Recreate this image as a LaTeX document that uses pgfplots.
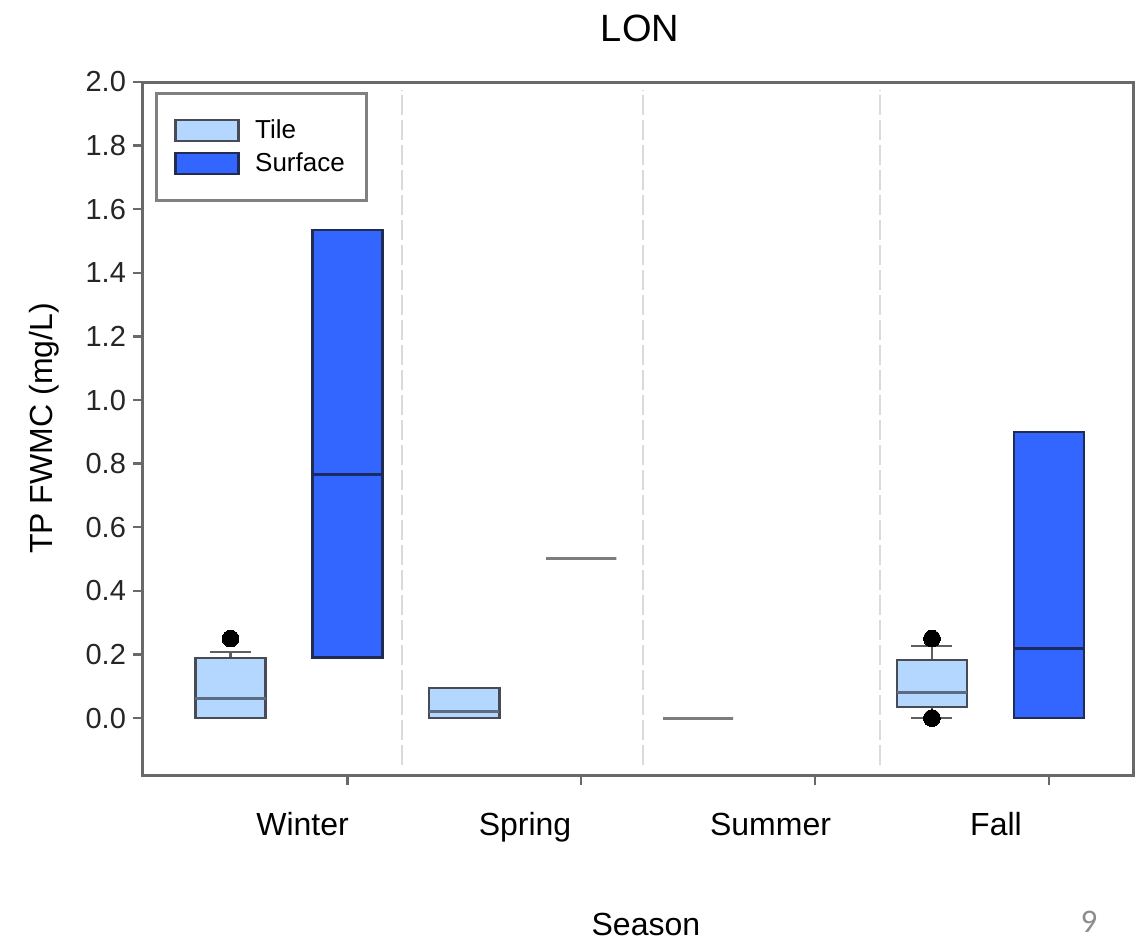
\documentclass[border=0pt]{standalone}
\usepackage{pgfplots}
\pgfplotsset{compat=1.18}
\usepgfplotslibrary{statistics}
\usepackage{fontspec}
\setmainfont{Liberation Sans}
\newfontfamily\pagefont{Carlito}
\definecolor{tilefill}{RGB}{179,215,255}
\definecolor{tileedge}{RGB}{72,74,84}
\definecolor{tilemed}{RGB}{92,108,130}
\definecolor{surffill}{RGB}{51,102,255}
\definecolor{surfedge}{RGB}{34,44,82}
\definecolor{surfmed}{RGB}{28,42,100}
\definecolor{axisgray}{RGB}{105,105,105}
\definecolor{legendgray}{RGB}{128,128,128}
\definecolor{sepgray}{RGB}{218,218,218}
\definecolor{linegray}{RGB}{125,125,125}
\definecolor{whiskgray}{RGB}{95,95,95}
\definecolor{pagegray}{RGB}{140,140,140}
\pgfplotsset{
  tilebox/.style={draw=tileedge, line width=1.2pt, mark=*, mark size=4.2pt,
    mark options={fill=black, draw=black, line width=0pt},
    boxplot/draw direction=y,
    boxplot/box extend=0.6, boxplot/whisker extend=0.35,
    boxplot/every box/.style={fill=tilefill, draw=tileedge, line width=1.2pt},
    boxplot/every median/.style={draw=tilemed, line width=1.5pt},
    boxplot/every whisker/.style={draw=whiskgray, line width=1.2pt}},
  surfbox/.style={draw=surfedge, line width=1.2pt, mark=*, mark size=4.2pt,
    mark options={fill=black, draw=black},
    boxplot/draw direction=y,
    boxplot/box extend=0.6, boxplot/whisker extend=0.35,
    boxplot/every box/.style={fill=surffill, draw=surfedge, line width=1.2pt},
    boxplot/every median/.style={draw=surfmed, line width=1.5pt},
    boxplot/every whisker/.style={draw=surfedge, line width=1.2pt}},
  flatbox/.style={draw=linegray, line width=1.5pt, mark=none,
    boxplot/draw direction=y,
    boxplot/box extend=0.6, boxplot/whisker extend=0.35,
    boxplot/every box/.style={draw=linegray, line width=1.5pt},
    boxplot/every median/.style={draw=linegray, line width=1.5pt},
    boxplot/every whisker/.style={draw=linegray, line width=1.5pt}},
}
\begin{document}
\begin{tikzpicture}
\useasboundingbox (-71.5pt,-82pt) rectangle (499pt,387.5pt);
\begin{axis}[
  width=495pt, height=346.5pt, scale only axis,
  xmin=-0.749, xmax=7.72, ymin=-0.179, ymax=2.0,
  clip=false,
  axis line style={draw=axisgray, line width=1.5pt},
  ytick={0,0.2,0.4,0.6,0.8,1.0,1.2,1.4,1.6,1.8,2.0},
  yticklabel style={font=\fontsize{14.5}{17}\selectfont, text=black!85,
    /pgf/number format/fixed, /pgf/number format/fixed zerofill,
    /pgf/number format/precision=1, /pgf/number format/assume math mode=true},
  xtick={1,3,5,7}, xticklabels={},
  tick align=outside, major tick length=5pt,
  tick style={draw=axisgray, line width=1.2pt},
  xtick pos=lower, ytick pos=left,
  legend style={at={(axis description cs:0.0121,0.9856)}, anchor=north west,
    draw=legendgray, line width=1.5pt, font=\fontsize{13}{15}\selectfont,
    inner xsep=9pt, inner ysep=11pt, row sep=1.5pt, cells={anchor=west}},
  legend image code/.code={\draw[#1, line width=1.2pt] (0pt,-5.25pt) rectangle (31.5pt,5.25pt); \path (37pt,0pt);},
]
% separators
\addplot[forget plot, sepgray, line width=1pt, dash pattern=on 10pt off 2.5pt] coordinates {(1.467,-0.148) (1.467,1.975)};
\addplot[forget plot, sepgray, line width=1pt, dash pattern=on 10pt off 2.5pt] coordinates {(3.529,-0.148) (3.529,1.975)};
\addplot[forget plot, sepgray, line width=1pt, dash pattern=on 10pt off 2.5pt] coordinates {(5.556,-0.148) (5.556,1.975)};

\addlegendimage{draw=tileedge, fill=tilefill}
\addlegendentry{Tile}
\addlegendimage{draw=surfedge, fill=surffill}
\addlegendentry{Surface}

% Winter
\addplot[forget plot, tilebox, boxplot prepared={draw position=0, lower whisker=0, lower quartile=0, median=0.063, upper quartile=0.189, upper whisker=0.208}] table[row sep=\\, y index=0] {d\\ 0.25\\};
\addplot[forget plot, surfbox, boxplot prepared={draw position=1, lower whisker=0.19, lower quartile=0.19, median=0.767, upper quartile=1.535, upper whisker=1.535}] coordinates {};
% Spring
\addplot[forget plot, tilebox, boxplot prepared={draw position=2, lower whisker=0, lower quartile=0, median=0.02, upper quartile=0.094, upper whisker=0.094}] coordinates {};
\addplot[forget plot, flatbox, boxplot prepared={draw position=3, lower whisker=0.503, lower quartile=0.503, median=0.503, upper quartile=0.503, upper whisker=0.503}] coordinates {};
% Summer
\addplot[forget plot, flatbox, boxplot prepared={draw position=4, lower whisker=0, lower quartile=0, median=0, upper quartile=0, upper whisker=0}] coordinates {};
% Fall
\addplot[forget plot, tilebox, boxplot prepared={draw position=6, lower whisker=0, lower quartile=0.035, median=0.079, upper quartile=0.182, upper whisker=0.226}] table[row sep=\\, y index=0] {d\\ 0.25\\ 0.0\\};
\addplot[forget plot, surfbox, boxplot prepared={draw position=7, lower whisker=0, lower quartile=0, median=0.22, upper quartile=0.90, upper whisker=0.90}] coordinates {};

% labels
\node[anchor=base, font=\fontsize{16}{19}\selectfont] at (axis cs:0.616,-0.179) [yshift=-30pt] {Winter};
\node[anchor=base, font=\fontsize{16}{19}\selectfont] at (axis cs:2.519,-0.179) [yshift=-30pt] {Spring};
\node[anchor=base, font=\fontsize{16}{19}\selectfont] at (axis cs:4.619,-0.179) [yshift=-30pt] {Summer};
\node[anchor=base, font=\fontsize{16}{19}\selectfont] at (axis cs:6.548,-0.179) [yshift=-30pt] {Fall};
\node[anchor=base, font=\fontsize{19}{22}\selectfont] at (axis description cs:0.502,1) [yshift=20pt] {LON};
\node[anchor=base, rotate=90, font=\fontsize{16}{19}\selectfont] at (axis description cs:-0.0919,0.5) {TP FWMC (mg/L)};
\node[anchor=base, font=\fontsize{16}{19}\selectfont] at (axis description cs:0.508,0) [yshift=-80pt] {Season};
\node[anchor=base, text=pagegray, font=\pagefont\fontsize{16.5}{19}\selectfont] at (axis description cs:0.9556,0) [yshift=-78.5pt] {9};
\end{axis}
\end{tikzpicture}
\end{document}
